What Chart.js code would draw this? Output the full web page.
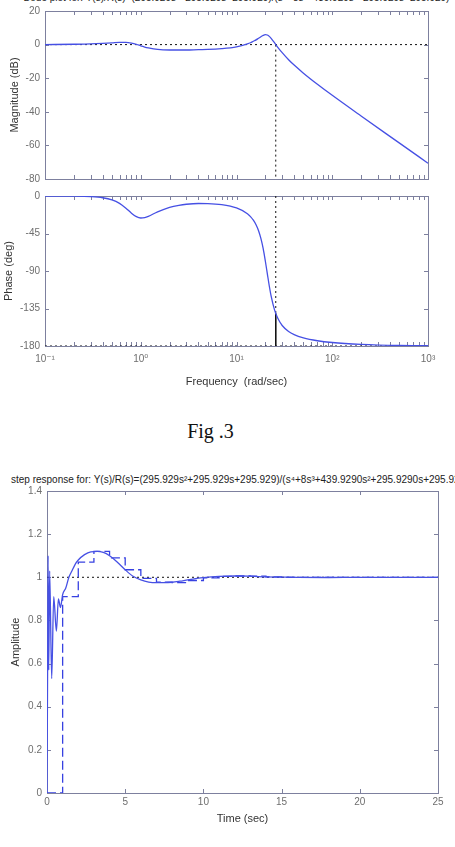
<!DOCTYPE html>
<html>
<head>
<meta charset="utf-8">
<script src="https://cdn.jsdelivr.net/npm/chart.js@4.4.1/dist/chart.umd.min.js"></script>
<style>
  html, body { margin:0; padding:0; background:#fff; width:455px; height:847px; overflow:hidden; position:relative; }
  .cv { position:absolute; left:0; }
  .t { position:absolute; white-space:nowrap; transform:translateX(-50%); font-family:"Liberation Sans", Arial, sans-serif; color:#222; }
  #fig { position:absolute; white-space:nowrap; transform:translateX(-50%); font-family:"Liberation Serif", "Times New Roman", serif; font-size:20px; line-height:20px; color:#111; }
</style>
</head>
<body>
<div class="t" style="left:236.5px; top:-7.5px; font-size:10px; line-height:10px;">Bode plot for: Y(s)/R(s)=(295.929s²+295.929s+295.929)/(s⁴+8s³+439.929s²+295.929s+295.929)</div>
<canvas id="cA" class="cv" style="top:0px" width="455" height="190"></canvas>
<canvas id="cB" class="cv" style="top:185px" width="455" height="215"></canvas>
<div id="fig" style="left:210.5px; top:421px;">Fig .3</div>
<div class="t" style="left:242.5px; top:474.5px; font-size:10px; line-height:10px;">step response for: Y(s)/R(s)=(295.929s²+295.929s+295.929)/(s⁴+8s³+439.9290s²+295.9290s+295.9290)</div>
<canvas id="cC" class="cv" style="top:480px" width="455" height="367"></canvas>

<script>
// ---------------- data ----------------
const freq = [0.1, 0.2, 0.3, 0.4, 0.5, 0.6, 0.7, 0.8, 0.9, 1, 1.1, 1.2, 1.5, 2, 2.5, 3, 4, 5, 7, 10,
              13, 14, 15, 16, 17, 18, 19, 20, 21, 22, 23, 25, 27, 30, 35, 40, 50, 70, 100, 200, 500, 1000];
const magDb = [0.0, 0.2, 0.4, 0.7, 1.0, 1.3, 1.3, 0.9, 0.2, -0.7, -1.5, -2.0, -2.9, -3.2, -3.2, -3.2, -3.0, -2.9, -2.4, -1.3,
               0.4, 1.1, 2.0, 2.8, 3.8, 4.7, 5.5, 5.9, 5.7, 4.9, 3.7, 1.0, -1.6, -4.8, -9.0, -12.2, -17.0, -23.6, -30.2, -42.5, -58.5, -70.6];
const phaseDeg = [0, -0.2, -0.8, -2.1, -4.6, -8.8, -14.6, -20.6, -24.8, -26.4, -25.9, -24.4, -19.0, -13.7, -11.2, -9.9, -9.0, -9.1, -10.3, -14.3,
                  -21.2, -24.7, -29.0, -34.5, -41.7, -51.2, -63.2, -78.0, -93.4, -108.0, -120.1, -136.9, -146.8, -155.4, -162.6, -166.4, -170.3, -173.7, -175.8, -178.0, -179.4, -179.7];
const crossFreq = 25.7;     // 0 dB crossover
const crossPhase = -141;    // phase at crossover
const freqDecades = [0.1, 1, 10, 100, 1000];
const freqDecadeLabels = ['10⁻¹', '10⁰', '10¹', '10²', '10³'];

const stepT = [0, 0.04, 0.07, 0.11, 0.17, 0.30, 0.43, 0.60, 0.73, 0.86, 1.0, 1.2, 1.4, 1.6, 1.8, 2.0, 2.4, 2.8, 3.2, 3.6,
               4.0, 4.5, 5.0, 5.5, 6.0, 6.5, 7.0, 7.5, 8.0, 8.5, 9.0, 10, 11, 12, 13, 14, 16, 18, 20, 25];
const stepY = [0, 0.60, 1.10, 0.57, 1.03, 0.53, 0.91, 0.75, 0.90, 0.86, 0.92, 0.95, 1.0, 1.03, 1.06, 1.08, 1.105, 1.118, 1.12, 1.115,
               1.10, 1.07, 1.035, 1.005, 0.988, 0.978, 0.975, 0.975, 0.977, 0.982, 0.988, 0.998, 1.004, 1.006, 1.005, 1.002, 1.0, 0.999, 1.0, 1.0];
const sampleT = [0, 1, 2, 3, 4, 5, 6, 7, 8, 9, 10, 11, 12, 13, 14, 15, 16, 17, 18, 19, 20, 21, 22, 23, 24, 25];
const sampleY = [0, 0.91, 1.07, 1.12, 1.09, 1.035, 0.995, 0.978, 0.975, 0.985, 0.997, 1.004, 1.006, 1.005, 1.002, 1.0, 1.0, 1.0, 1.0, 1.0, 1.0, 1.0, 1.0, 1.0, 1.0, 1.0];
const stepRef = 1;

// ---------------- styling ----------------
const BLUE = 'rgb(70,80,228)';
const AXIS = '#7d809e';
const TICKC = '#6e6e6e';
const TITLEC = '#333';
const FONT = '"Liberation Sans", "DejaVu Sans", Arial, sans-serif';
const tickFont = { family: FONT, size: 10 };
const titleFont = { family: FONT, size: 11 };
const DASH = [2, 3];

// inward tick marks + box like MATLAB axes
const matlabBox = {
  id: 'matlabBox',
  beforeDatasetsDraw(chart) {
    const { ctx, chartArea: a, scales } = chart;
    const xs = scales.x, ys = scales.y;
    const L = 4;
    ctx.save();
    ctx.strokeStyle = AXIS;
    ctx.lineWidth = 1;
    ctx.beginPath();
    xs.ticks.forEach(t => {
      const px = Math.round(xs.getPixelForValue(t.value)) + 0.5;
      if (px < a.left || px > a.right + 1) return;
      ctx.moveTo(px, a.bottom); ctx.lineTo(px, a.bottom - L);
      ctx.moveTo(px, a.top); ctx.lineTo(px, a.top + L);
    });
    ys.ticks.forEach(t => {
      const py = Math.round(ys.getPixelForValue(t.value)) + 0.5;
      ctx.moveTo(a.left, py); ctx.lineTo(a.left + L, py);
      ctx.moveTo(a.right, py); ctx.lineTo(a.right - L, py);
    });
    ctx.stroke();
    ctx.strokeRect(Math.round(a.left) + 0.5, Math.round(a.top) + 0.5,
                   Math.round(a.right - a.left), Math.round(a.bottom - a.top));
    ctx.restore();
  }
};

function setFreqTicks(scale) {
  const out = [];
  freqDecades.forEach((d, i) => {
    if (i === freqDecades.length - 1) { out.push({ value: d }); return; }
    for (let m = 1; m <= 9; m++) out.push({ value: +(m * d).toPrecision(6) });
  });
  scale.ticks = out;
}
function freqLabel(v) {
  const i = freqDecades.findIndex(d => Math.abs(v - d) / d < 1e-6);
  return i >= 0 ? freqDecadeLabels[i] : '';
}
const noGrid = { display: false, drawTicks: false };
const noBorder = { display: false };
const baseOpts = {
  responsive: false, animation: false, devicePixelRatio: 1,
  plugins: { legend: { display: false }, tooltip: { enabled: false } },
  elements: { point: { radius: 0 } }
};
const pts = (xs, ys) => xs.map((x, i) => ({ x, y: ys[i] }));

// ---------------- magnitude ----------------
new Chart(document.getElementById('cA'), {
  type: 'line',
  data: { datasets: [
    { data: pts(freq, magDb), borderColor: BLUE, borderWidth: 1.3, cubicInterpolationMode: 'monotone', pointRadius: 0 },
    { data: [{ x: freq[0], y: 0 }, { x: freq[freq.length - 1], y: 0 }], borderColor: '#111', borderWidth: 1, borderDash: DASH, pointRadius: 0 },
    { data: [{ x: crossFreq, y: 0 }, { x: crossFreq, y: -80 }], borderColor: '#111', borderWidth: 1, borderDash: DASH, pointRadius: 0 }
  ]},
  options: Object.assign({}, baseOpts, {
    layout: { padding: { top: 10, right: 27, left: 0, bottom: 0 } },
    scales: {
      x: { type: 'logarithmic', min: 0.1, max: 1000, afterBuildTicks: setFreqTicks,
           afterFit: s => { s.height = 8; }, ticks: { display: false, autoSkip: false }, grid: noGrid, border: noBorder },
      y: { type: 'linear', min: -80, max: 20, ticks: { stepSize: 20, font: tickFont, color: TICKC, padding: 5 },
           afterFit: s => { s.width = 45; }, grid: noGrid, border: noBorder,
           title: { display: true, text: 'Magnitude (dB)', font: titleFont, color: TITLEC, padding: { top: 8.4, bottom: 0 } } }
    }
  }),
  plugins: [matlabBox]
});

// ---------------- phase ----------------
new Chart(document.getElementById('cB'), {
  type: 'line',
  data: { datasets: [
    { data: pts(freq, phaseDeg), borderColor: BLUE, borderWidth: 1.3, cubicInterpolationMode: 'monotone', pointRadius: 0 },
    { data: [{ x: freq[0], y: -180 }, { x: freq[freq.length - 1], y: -180 }], borderColor: '#111', borderWidth: 1, borderDash: DASH, pointRadius: 0 },
    { data: [{ x: crossFreq, y: 0 }, { x: crossFreq, y: crossPhase }], borderColor: '#111', borderWidth: 1, borderDash: DASH, pointRadius: 0 },
    { data: [{ x: crossFreq, y: crossPhase }, { x: crossFreq, y: -180 }], borderColor: '#111', borderWidth: 1, pointRadius: 0 }
  ]},
  options: Object.assign({}, baseOpts, {
    layout: { padding: { top: 10, right: 27, left: 0, bottom: 0 } },
    scales: {
      x: { type: 'logarithmic', min: 0.1, max: 1000, afterBuildTicks: setFreqTicks,
           afterFit: s => { s.height = 54; },
           ticks: { autoSkip: false, maxRotation: 0, minRotation: 0, font: tickFont, color: TICKC, padding: 7, callback: v => freqLabel(v) },
           grid: noGrid, border: noBorder,
           title: { display: true, text: 'Frequency  (rad/sec)', font: titleFont, color: TITLEC, padding: { top: 0, bottom: 11.4 } } },
      y: { type: 'linear', min: -180, max: 0, ticks: { stepSize: 45, font: tickFont, color: TICKC, padding: 5 },
           afterFit: s => { s.width = 45; }, grid: noGrid, border: noBorder,
           title: { display: true, text: 'Phase (deg)', font: titleFont, color: TITLEC, padding: { top: 2.4, bottom: 0 } } }
    }
  }),
  plugins: [matlabBox]
});

// ---------------- step response ----------------
new Chart(document.getElementById('cC'), {
  type: 'line',
  data: { datasets: [
    { data: pts(stepT, stepY), borderColor: BLUE, borderWidth: 1.3, cubicInterpolationMode: 'monotone', pointRadius: 0 },
    { data: pts(sampleT, sampleY), borderColor: 'rgb(55,65,225)', borderWidth: 1.3, stepped: 'before', borderDash: [9, 4], pointRadius: 0 },
    { data: [{ x: 0, y: stepRef }, { x: 25, y: stepRef }], borderColor: '#111', borderWidth: 1, borderDash: DASH, pointRadius: 0 }
  ]},
  options: Object.assign({}, baseOpts, {
    layout: { padding: { top: 11, right: 17, left: 0, bottom: 0 } },
    scales: {
      x: { type: 'linear', min: 0, max: 25, afterFit: s => { s.height = 54; },
           ticks: { stepSize: 5, autoSkip: false, maxRotation: 0, font: tickFont, color: TICKC, padding: 3 },
           grid: noGrid, border: noBorder,
           title: { display: true, text: 'Time (sec)', font: titleFont, color: TITLEC, padding: { top: 0, bottom: 21 } } },
      y: { type: 'linear', min: 0, max: 1.4,
           ticks: { stepSize: 0.2, font: tickFont, color: TICKC, padding: 5, callback: v => String(Math.round(v * 10) / 10) },
           afterFit: s => { s.width = 47; }, grid: noGrid, border: noBorder,
           title: { display: true, text: 'Amplitude', font: titleFont, color: TITLEC, padding: { top: 9, bottom: 0 } } }
    }
  }),
  plugins: [matlabBox]
});
</script>
</body>
</html>
